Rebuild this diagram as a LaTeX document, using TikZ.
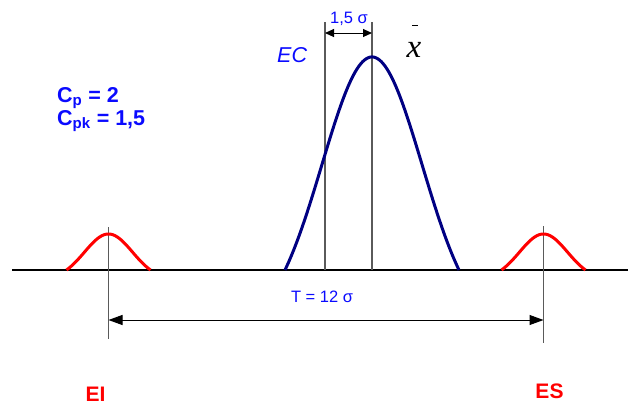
\documentclass[tikz,border=0pt]{standalone}
\usepackage{fontspec}
\setmainfont{Liberation Sans}
\newfontfamily\tnrfont{Liberation Serif}
\usetikzlibrary{arrows.meta}
\definecolor{txtblue}{RGB}{10,10,255}
\definecolor{navy}{RGB}{0,0,130}
\definecolor{lgray}{RGB}{90,90,90}
\tikzset{
  axisline/.style={draw=black,line width=1.3pt},
  guide/.style={draw=lgray,line width=1.6pt},
  bluecurve/.style={draw=navy,line width=3pt},
  redcurve/.style={draw=red,line width=3pt},
  dimarrow/.style={draw=black,line width=1pt,{Triangle[length=14pt,width=10pt]}-{Triangle[length=14pt,width=10pt]}},
  smallarrow/.style={draw=black,line width=1pt,{Triangle[length=9pt,width=8pt]}-{Triangle[length=9pt,width=8pt]}},
  bluelbl/.style={text=txtblue,font=\fontsize{16.5}{16.5}\selectfont,inner sep=0pt},
  bigblue/.style={text=txtblue,font=\bfseries\fontsize{21.5}{21.5}\selectfont,inner sep=0pt},
  redlbl/.style={text=red,font=\bfseries\fontsize{21}{21}\selectfont,inner sep=0pt},
}
\begin{document}
\begin{tikzpicture}[x=1pt,y=-1pt]
\useasboundingbox (0,0) rectangle (630,405);
% base line
\coordinate (b0) at (12,270);
\coordinate (b1) at (628,270);
\draw[axisline] (b0) -- (b1);
% guide lines
\coordinate (eiT) at (108.5,227); \coordinate (eiB) at (108.5,339);
\coordinate (esT) at (543.5,226); \coordinate (esB) at (543.5,343);
\coordinate (lT) at (325,22); \coordinate (lB) at (325,270);
\coordinate (mT) at (372,22); \coordinate (mB) at (372,270);
\draw[guide] (eiT) -- (eiB);
\draw[guide] (esT) -- (esB);
\draw[guide] (lT) -- (lB);
\draw[guide] (mT) -- (mB);
% curves
\draw[redcurve] plot[domain=-42:42,samples=80,smooth] ({108.5+\x},{270-45.9*(exp(-(\x*\x)/1152)-0.216)});
\draw[redcurve] plot[domain=-42:42,samples=80,smooth] ({543.5+\x},{270-45.9*(exp(-(\x*\x)/1152)-0.216)});
\draw[bluecurve] plot[domain=-87:87,samples=120,smooth] ({372+\x},{270-273.1*(exp(-(\x*\x)/5000)-0.2201)});
% dimension arrows
\coordinate (tL) at (108.5,320); \coordinate (tR) at (543.5,320);
\draw[dimarrow] (tL) -- (tR);
\coordinate (sL) at (325,33); \coordinate (sR) at (372,33);
\draw[smallarrow] (sL) -- (sR);
% labels
\node[bluelbl] (sig) at (349,19) {1,5 σ};
\node[bluelbl] (tlab) at (322,297) {T = 12 σ};
\node[text=txtblue,font=\itshape\fontsize{21.5}{21.5}\selectfont,inner sep=0pt,anchor=base west] (ec) at (277,62) {EC};
\node[inner sep=0pt,anchor=base,font=\tnrfont\itshape\fontsize{33}{33}\selectfont] (xb) at (414,57) {x\llap{\rule[31pt]{6pt}{0.8pt}\hspace{3pt}}};
\node[bigblue,anchor=base west] (cp) at (57,102) {C\textsubscript{p} = 2};
\node[bigblue,anchor=base west] (cpk) at (57,125) {C\textsubscript{pk} = 1,5};
\node[redlbl,anchor=base] (ei) at (95.5,401) {EI};
\node[redlbl,anchor=base] (es) at (549.5,398) {ES};
\end{tikzpicture}
\end{document}
